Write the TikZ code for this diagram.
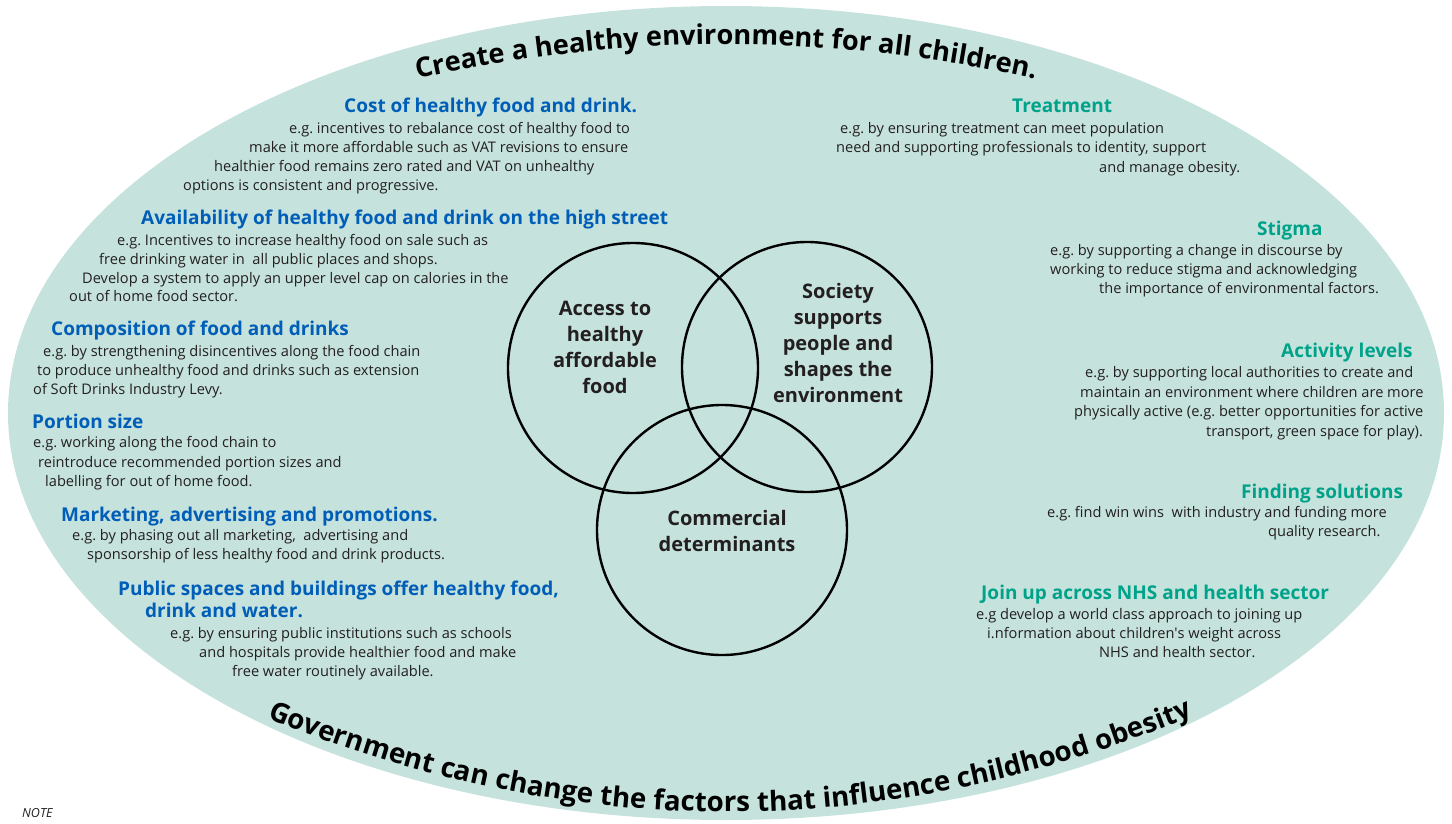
\documentclass[tikz,border=0pt]{standalone}
\usepackage{fontspec}
\setmainfont{Open Sans}
\usetikzlibrary{decorations.text}
\frenchspacing
\definecolor{bgteal}{HTML}{C5E2DC}
\definecolor{nhsblue}{HTML}{005EB8}
\definecolor{nhsgreen}{HTML}{00A38A}
\definecolor{txt}{HTML}{231F20}
\newcommand\bodyfnt{\fontsize{14.6}{17}\selectfont}
\newcommand\headfnt{\bfseries\fontsize{19}{22}\selectfont}
\newcommand\vennfnt{\bfseries\fontsize{20}{26}\selectfont}
\newcommand\topttl{\bfseries\fontsize{27.2}{31}\selectfont}
\newcommand\botttl{\bfseries\fontsize{27.7}{32}\selectfont}
\tikzset{
  body/.style={anchor=base west, inner sep=0pt, font=\bodyfnt, text=txt},
  bhead/.style={anchor=base west, inner sep=0pt, font=\headfnt, text=nhsblue},
  ghead/.style={anchor=base west, inner sep=0pt, font=\headfnt, text=nhsgreen},
  venntxt/.style={align=center, inner sep=0pt, font=\vennfnt, text=txt},
  venncirc/.style={draw=black, line width=2.4pt},
}
\begin{document}
\begin{tikzpicture}[x=1pt,y=-1pt]
\useasboundingbox (0,0) rectangle (1452,823);
\fill[bgteal] (726,413) ellipse [x radius=718pt, y radius=407pt];
% Venn circles
\draw[venncirc] (633,368) circle [radius=125pt];
\draw[venncirc] (807,367) circle [radius=125pt];
\draw[venncirc] (722,530) circle [radius=125pt];
\node[venntxt] (va) at (605,347) {Access to\\healthy\\affordable\\food};
\node[venntxt] (vs) at (838,343) {Society\\supports\\people and\\shapes the\\environment};
\node[venntxt] (vc) at (727,531) {Commercial\\determinants};
% titles
\path[decorate, decoration={text along path, text align=center,
  text={|\topttl|Create a healthy environment for all children.}}]
  (390,85) .. controls (614,31) and (838,31) .. (1062,85);
\path[decorate, decoration={text along path, text align=center,
  text={|\botttl|Government can change the factors that influence childhood obesity}}]
  (245,709) .. controls (568,847) and (891,846) .. (1214,707);
% left column
\node[bhead] (h1) at (344,112) {Cost of healthy food and drink.};
\node[body] (h1a) at (289,133) {e.g. incentives to rebalance cost of healthy food to};
\node[body] (h1b) at (249,152) {make it more affordable such as VAT revisions to ensure};
\node[body] (h1c) at (214,171) {healthier food remains zero rated and VAT on unhealthy};
\node[body] (h1d) at (183,190) {options is consistent and progressive.};
\node[bhead] (h2) at (141,224) {Availability of healthy food and drink on the high street};
\node[body] (h2a) at (117,245) {e.g. Incentives to increase healthy food on sale such as};
\node[body] (h2b) at (99,264) {free drinking water in\ \ all public places and shops.};
\node[body] (h2c) at (82,283) {Develop a system to apply an upper level cap on calories in the};
\node[body] (h2d) at (69,301) {out of home food sector.};
\node[bhead] (h3) at (51,335) {Composition of food and drinks};
\node[body] (h3a) at (43,356) {e.g. by strengthening disincentives along the food chain};
\node[body] (h3b) at (37,375) {to produce unhealthy food and drinks such as extension};
\node[body] (h3c) at (33,394) {of Soft Drinks Industry Levy.};
\node[bhead] (h4) at (32,428) {Portion size};
\node[body] (h4a) at (33,447) {e.g. working along the food chain to};
\node[body] (h4b) at (38,467) {reintroduce recommended portion sizes and};
\node[body] (h4c) at (45,486) {labelling for out of home food.};
\node[bhead] (h5) at (61,521) {Marketing, advertising and promotions.};
\node[body] (h5a) at (72,540) {e.g. by phasing out all marketing,\ \ advertising and};
\node[body] (h5b) at (87,559) {sponsorship of less healthy food and drink products.};
\node[bhead] (h6) at (118,595) {Public spaces and buildings offer healthy food,};
\node[bhead] (h6x) at (145,617) {drink and water.};
\node[body] (h6a) at (170,638) {e.g. by ensuring public institutions such as schools};
\node[body] (h6b) at (199,657) {and hospitals provide healthier food and make};
\node[body] (h6c) at (232,676) {free water routinely available.};
% right column
\node[ghead] (g1) at (1012,112) {Treatment};
\node[body] (g1a) at (840,133) {e.g. by ensuring treatment can meet population};
\node[body] (g1b) at (836,152) {need and supporting professionals to identity, support};
\node[body] (g1c) at (1099,172) {and manage obesity.};
\node[ghead] (g2) at (1257,235) {Stigma};
\node[body] (g2a) at (1050,255) {e.g. by supporting a change in discourse by};
\node[body] (g2b) at (1050,274) {working to reduce stigma and acknowledging};
\node[body] (g2c) at (1099,293) {the importance of environmental factors.};
\node[ghead] (g3) at (1281,357) {Activity levels};
\node[body] (g3a) at (1085,377) {e.g. by supporting local authorities to create and};
\node[body] (g3b) at (1080,397) {maintain an environment where children are more};
\node[body] (g3c) at (1074,416) {physically active (e.g. better opportunities for active};
\node[body] (g3d) at (1206,436) {transport, green space for play).};
\node[ghead] (g4) at (1241,498) {Finding solutions};
\node[body] (g4a) at (1047,517) {e.g. find win wins\ \ with industry and funding more};
\node[body] (g4b) at (1268,536) {quality research.};
\node[ghead] (g5) at (981,599) {Join up across NHS and health sector};
\node[body] (g5a) at (976,619) {e.g develop a world class approach to joining up};
\node[body] (g5b) at (987,638) {i.nformation about children\textquotesingle s weight across};
\node[body] (g5c) at (1099,657) {NHS and health sector.};
% note
\node[anchor=base west, inner sep=0pt, font=\itshape\fontsize{12.5}{14}\selectfont, text=txt] (note) at (22,817) {NOTE};
\end{tikzpicture}
\end{document}
